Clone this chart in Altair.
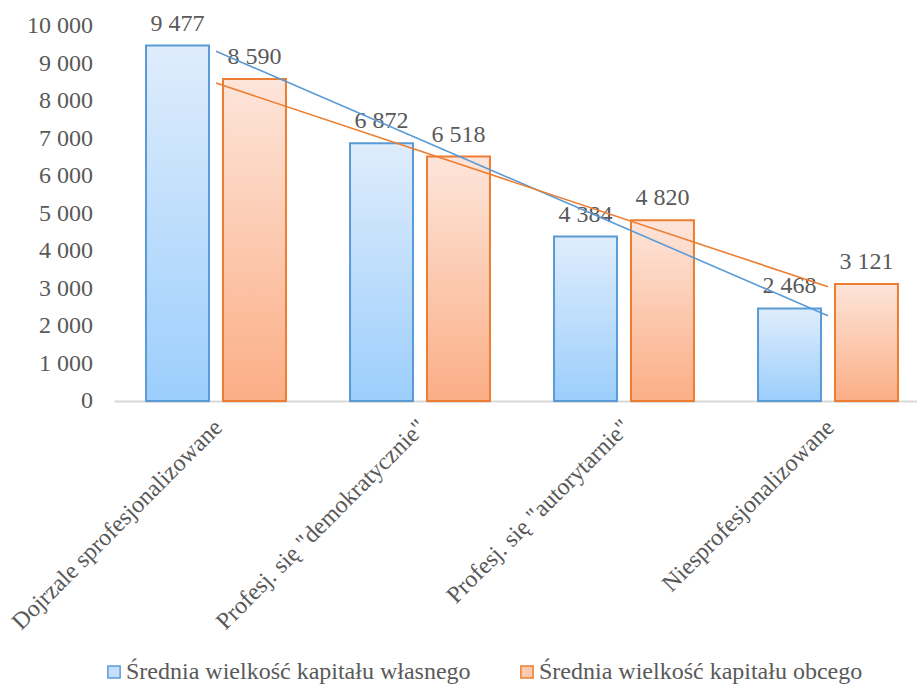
import altair as alt
import pandas as pd

categories = [
    "Dojrzale sprofesjonalizowane",
    'Profesj. się "demokratycznie"',
    'Profesj. się "autorytarnie"',
    "Niesprofesjonalizowane",
]
series = ["Średnia wielkość kapitału własnego", "Średnia wielkość kapitału obcego"]
own_capital = [9477, 6872, 4384, 2468]
foreign_capital = [8590, 6518, 4820, 3121]
y_ticks = [0, 1000, 2000, 3000, 4000, 5000, 6000, 7000, 8000, 9000, 10000]

rows = []
for i, c in enumerate(categories):
    rows.append({"cat": c, "idx": i + 1, "series": series[0], "value": own_capital[i]})
    rows.append({"cat": c, "idx": i + 1, "series": series[1], "value": foreign_capital[i]})
df = pd.DataFrame(rows)
cats_df = pd.DataFrame({"idx": list(range(1, len(categories) + 1)), "cat": categories})
ticks_df = pd.DataFrame({"value": y_ticks})

FONT = "Liberation Serif"
TXT = "#595959"
BLUE = "#5B9BD5"
ORANGE = "#ED7D31"
FS = 24

blue_grad = alt.LinearGradient(
    gradient="linear",
    stops=[alt.GradientStop(color="#DFEDFC", offset=0), alt.GradientStop(color="#9CCEFC", offset=1)],
    x1=0, x2=0, y1=0, y2=1,
)
orange_grad = alt.LinearGradient(
    gradient="linear",
    stops=[alt.GradientStop(color="#FDE5DA", offset=0), alt.GradientStop(color="#FBAE86", offset=1)],
    x1=0, x2=0, y1=0, y2=1,
)

fmt = "replace(format(datum.value, ','), ',', ' ')"

x_axis = alt.Axis(
    title=None, labelAngle=-45, labelAlign="right", labelBaseline="top",
    labelPadding=14, labelOffset=-6, labelFont=FONT, labelFontSize=FS, labelColor=TXT,
    domainColor="#D9D9D9", domainWidth=2, ticks=False, labelLimit=400,
    labelOverlap=False,
)
x_scale = alt.Scale(range=[0, 816], paddingInner=0, paddingOuter=0)
x_enc = alt.X("cat:N", sort=categories, scale=x_scale, axis=x_axis)
xo_enc = alt.XOffset("series:N", sort=series,
                     scale=alt.Scale(paddingInner=0.182, paddingOuter=0.416))
y_scale = alt.Scale(domain=[0, 10000])

stroke_scale = alt.Scale(domain=series, range=[BLUE, ORANGE])

base = alt.Chart(df)

# hidden layer carrying the legend (covered by bars)
legend_layer = base.transform_calculate(half="datum.value / 2").mark_square(
    size=40, strokeWidth=1.5, opacity=1
).encode(
    x=x_enc,
    xOffset=xo_enc,
    y=alt.Y("half:Q", scale=y_scale, axis=None),
    fill=alt.Fill("series:N", scale=alt.Scale(domain=series, range=["#C4DFFB", "#FCCAB0"]),
                  legend=alt.Legend(
                      title=None, orient="none", legendX=-12, legendY=634,
                      direction="horizontal", symbolType="square", symbolSize=150,
                      symbolStrokeWidth=1.5, labelFont=FONT, labelFontSize=FS,
                      labelColor=TXT, columnPadding=44, labelOffset=0,
                      labelLimit=500,
                  )),
    stroke=alt.Stroke("series:N", scale=stroke_scale),
)

shadow = base.mark_bar(
    fill="#000000", opacity=0.13, xOffset=1.5, yOffset=1.5
).encode(x=x_enc, xOffset=xo_enc, y=alt.Y("value:Q", scale=y_scale, axis=None))

bars_own = base.transform_filter(alt.datum.series == series[0]).mark_bar(
    fill=blue_grad, stroke=BLUE, strokeWidth=2
).encode(x=x_enc, xOffset=xo_enc, y=alt.Y("value:Q", scale=y_scale, axis=None))

bars_foreign = base.transform_filter(alt.datum.series == series[1]).mark_bar(
    fill=orange_grad, stroke=ORANGE, strokeWidth=2
).encode(x=x_enc, xOffset=xo_enc, y=alt.Y("value:Q", scale=y_scale, axis=None))

labels = base.transform_calculate(lbl=fmt).mark_text(
    baseline="alphabetic", dy=-15, font=FONT, fontSize=FS, color=TXT
).encode(x=x_enc, xOffset=xo_enc, y=alt.Y("value:Q", scale=y_scale, axis=None), text="lbl:N")

y_labels = alt.Chart(ticks_df).transform_calculate(lbl=fmt).mark_text(
    align="right", baseline="middle", font=FONT, fontSize=FS, color=TXT
).encode(
    x=alt.value(-21),
    y=alt.Y("value:Q", scale=y_scale, axis=None),
    text="lbl:N",
)

trend = base.transform_regression(
    "idx", "value", groupby=["series"], extent=[1, 4]
).transform_lookup(
    lookup="idx", from_=alt.LookupData(data=cats_df, key="idx", fields=["cat"])
).mark_line(strokeWidth=1.6).encode(
    x=alt.X("cat:N", sort=categories, scale=x_scale, axis=x_axis),
    y=alt.Y("value:Q", scale=y_scale, axis=None),
    stroke=alt.Stroke("series:N", scale=stroke_scale, legend=None),
    detail="series:N",
)

chart = alt.layer(legend_layer, shadow, bars_own, bars_foreign, labels, y_labels, trend).properties(
    width=803, height=375,
    autosize=alt.AutoSizeParams(type="none"),
    padding={"left": 114, "top": 26, "right": 0, "bottom": 285},
    background="white",
).configure_view(stroke=None)

chart.save("out.html", embed_options={"renderer": "svg", "actions": False})
